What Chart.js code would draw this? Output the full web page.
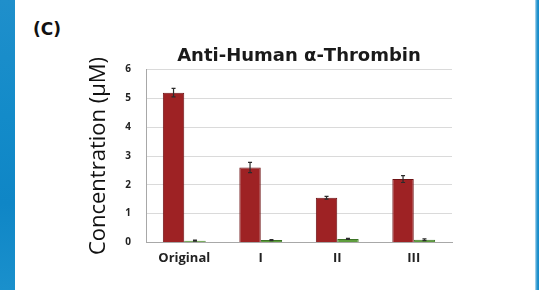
<!DOCTYPE html>
<html>
<head>
<meta charset="utf-8">
<script src="https://cdn.jsdelivr.net/npm/chart.js@4"></script>
<style>
  html, body { margin:0; padding:0; width:539px; height:290px; overflow:hidden; background:#ffffff; }
  #leftStrip { position:absolute; left:0; top:0; width:15px; height:290px;
    background:linear-gradient(180deg,#1f8fcb 0%,#138bc9 40%,#0f86c6 70%,#1a90cc 100%); }
  #rightStrip { position:absolute; left:535px; top:0; width:4px; height:290px;
    background:linear-gradient(90deg,#bfe1f2 0%,#2a96cf 50%,#1389c8 100%); }
  #label { position:absolute; left:33px; top:19px; font:bold 17px "DejaVu Sans", sans-serif; color:#111; }
  #wrap { position:absolute; left:0; top:0; width:539px; height:290px; }
</style>
</head>
<body>
<div id="leftStrip"></div>
<div id="rightStrip"></div>
<div id="label">(C)</div>
<div id="wrap"><canvas id="c" width="539" height="290"></canvas></div>
<script>
const categories = ["Original", "I", "II", "III"];
const redValues = [5.2, 2.6, 1.55, 2.2];
const redErrors = [0.15, 0.18, 0.05, 0.12];
const greenValues = [0.06, 0.08, 0.12, 0.09];
const greenErrors = [0.02, 0.02, 0.02, 0.03];
const yTicks = [0, 1, 2, 3, 4, 5, 6];

const errorBars = {
  id: 'errorBars',
  afterDatasetsDraw(chart) {
    const ctx = chart.ctx;
    const yScale = chart.scales.y;
    chart.data.datasets.forEach((ds, di) => {
      const meta = chart.getDatasetMeta(di);
      meta.data.forEach((el, i) => {
        const v = ds.data[i], e = ds.errors[i];
        const yTop = yScale.getPixelForValue(v + e);
        const yBot = yScale.getPixelForValue(v - e);
        ctx.save();
        ctx.strokeStyle = '#2b2b2b';
        ctx.lineWidth = 1.2;
        ctx.beginPath();
        ctx.moveTo(el.x, yTop); ctx.lineTo(el.x, yBot);
        ctx.moveTo(el.x - 2, yTop); ctx.lineTo(el.x + 2, yTop);
        ctx.moveTo(el.x - 2, yBot); ctx.lineTo(el.x + 2, yBot);
        ctx.stroke();
        ctx.restore();
      });
    });
  }
};

const redGradient = (context) => {
  const chart = context.chart;
  const el = context.element;
  if (!chart.chartArea || !el || el.x === undefined) return '#9e2224';
  const half = el.width ? el.width / 2 : 10;
  const g = chart.ctx.createLinearGradient(el.x - half, 0, el.x + half, 0);
  g.addColorStop(0, '#7e1618');
  g.addColorStop(0.35, '#a8282a');
  g.addColorStop(0.7, '#a22527');
  g.addColorStop(1, '#741214');
  return g;
};

new Chart(document.getElementById('c'), {
  type: 'bar',
  data: {
    labels: categories,
    datasets: [
      { data: redValues, errors: redErrors, backgroundColor: redGradient, borderColor: '#6e1214', borderWidth: 1 },
      { data: greenValues, errors: greenErrors, backgroundColor: '#5f9e3e', borderColor: '#3c7426', borderWidth: 1 }
    ]
  },
  options: {
    responsive: false,
    animation: false,
    categoryPercentage: 0.56,
    barPercentage: 1.0,
    layout: { padding: { left: 86, right: 87, top: 46, bottom: 16 } },
    plugins: {
      legend: { display: false },
      tooltip: { enabled: false },
      title: {
        display: true,
        text: 'Anti-Human \u03b1-Thrombin',
        fullSize: false,
        color: '#1a1a1a',
        font: { family: '"DejaVu Sans"', size: 18, weight: 'bold' },
        padding: { top: 0, bottom: 2 }
      }
    },
    scales: {
      x: {
        grid: { display: false, drawTicks: false },
        border: { color: '#a8a8a8', width: 1 },
        ticks: { color: '#222', padding: 8, font: { family: '"Open Sans"', size: 13, weight: 'bold' } }
      },
      y: {
        min: 0, max: 6,
        afterBuildTicks(axis) { axis.ticks = yTicks.map(v => ({ value: v })); },
        afterFit(axis) { axis.width = 60; },
        grid: { color: '#dadada', drawTicks: false },
        border: { color: '#a8a8a8', width: 1 },
        ticks: { color: '#222', padding: 15, font: { family: '"Open Sans"', size: 10, weight: 'bold' } },
        title: {
          display: true,
          text: 'Concentration (\u00b5M)',
          color: '#111',
          font: { family: '"Open Sans"', size: 22 },
          padding: { top: 0, bottom: 2 }
        }
      }
    }
  },
  plugins: [errorBars]
});
</script>
</body>
</html>
